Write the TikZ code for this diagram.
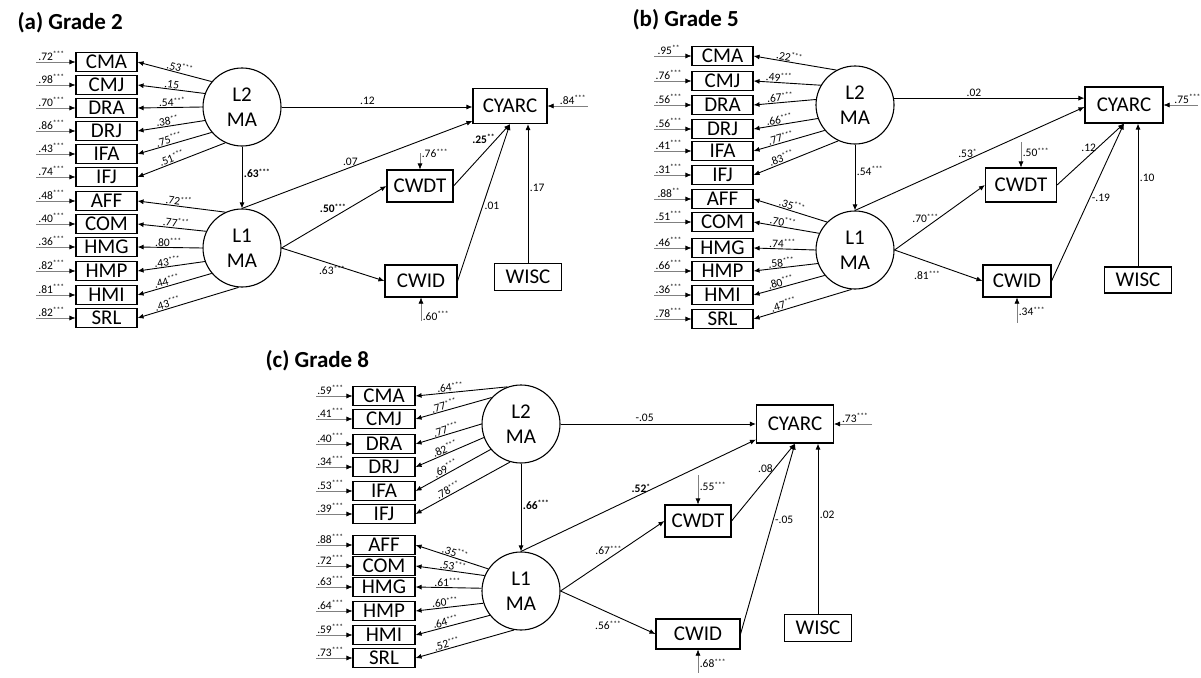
\documentclass[tikz,border=0pt]{standalone}
\usepackage{fontspec}
\setmainfont{Carlito}
\usetikzlibrary{arrows.meta}
\newcommand\sig[1]{\raisebox{3.2pt}{\fontsize{7.5}{8}\selectfont#1}}

\begin{document}
\begin{tikzpicture}[x=1pt, y=-1pt, font=\fontsize{11.5}{13}\selectfont,
		ind/.style={draw, line width=1.1pt, minimum width=61pt, minimum height=19pt, inner sep=0pt,
			text height=13.5pt, text depth=0pt, font=\fontsize{21}{22}\selectfont},
		var/.style={ind, minimum height=32pt},
		lat/.style={draw, circle, line width=1.1pt, minimum size=78pt, inner sep=0pt, align=center,
			font=\fontsize{21}{25}\selectfont},
		eff/.style={line width=0.9pt, -{Latex[length=6pt, width=5pt]}},
		err/.style={draw=gray, line width=0.6pt, -{Latex[length=6pt, width=5pt, color=black]}},
		lab/.style={inner sep=1.5pt},
		load/.style={inner sep=0.6pt, above, sloped},
		ttl/.style={anchor=base west, font=\fontsize{23}{26}\selectfont\bfseries}]
	\useasboundingbox (0,0) rectangle (1201,677);

	% (a) Grade 2
	\node[ttl] at (14,30) {(a) Grade 2};
	\node[lat] (L2a) at (242,107) {L2\\MA};
	\node[lat] (L1a) at (242,248) {L1\\MA};
	\node[var, minimum width=74pt, minimum height=35pt] (CYARCa) at (510,106) {CYARC};
	\node[var, minimum width=66pt] (CWDTa) at (420,186) {CWDT};
	\node[var, minimum width=72pt] (CWIDa) at (421,281) {CWID};
	\node[var, minimum width=67pt, minimum height=27pt] (WISCa) at (528,277) {WISC};
	\foreach \nm/\yy/\lv/\ang/\ps/\ld/\er in {
			CMA/62/L2a/140/0.45/{.53\sig{***}}/{.72\sig{***}},
			CMJ/85/L2a/160/0.5/{.15}/{.98\sig{***}},
			DRA/108/L2a/180/0.47/{.54\sig{***}}/{.70\sig{***}},
			DRJ/131/L2a/200/0.55/{.38\sig{**}}/{.86\sig{***}},
			IFA/154/L2a/220/0.56/{.75\sig{***}}/{.43\sig{***}},
			IFJ/177/L2a/245/0.59/{.51\sig{***}}/{.74\sig{***}},
			AFF/201/L1a/115/0.54/{.72\sig{***}}/{.48\sig{***}},
			COM/224/L1a/155/0.45/{.77\sig{***}}/{.40\sig{***}},
			HMG/247/L1a/180/0.53/{.80\sig{***}}/{.36\sig{***}},
			HMP/271/L1a/200/0.55/{.43\sig{***}}/{.82\sig{***}},
			HMI/295/L1a/220/0.59/{.44\sig{***}}/{.81\sig{***}},
			SRL/318/L1a/265/0.69/{.43\sig{***}}/{.82\sig{***}}} {
		\node[ind] (a-\nm) at (106.5,\yy) {\nm};
		\draw[err] ([xshift=-39pt]a-\nm.west) -- node[lab, pos=0.38, above] {\er} (a-\nm.west);
		\draw[eff] (\lv.\ang) -- node[load, pos=\ps] {\ld} (a-\nm.east);
	}
	\draw[eff] (L2a.south) -- node[lab, pos=0.43, right] {\bfseries .63\sig{***}} (L1a.north);
	\draw[eff] (L2a.east) -- node[lab, pos=0.45, above] {.12} (L2a.east -| CYARCa.west);
	\draw[eff] (L1a.north) -- node[lab, pos=0.47, above] {.07} ([yshift=3pt]CYARCa.south west);
	\draw[eff] (L1a.east) -- node[lab, pos=0.49, above=3pt] {\bfseries .50\sig{***}} (CWDTa.west);
	\draw[eff] (L1a.east) -- node[lab, pos=0.49, below] {.63\sig{***}} (CWIDa.west);
	\draw[eff] (CWDTa.east) -- node[lab, pos=0.76, left] {\bfseries .25\sig{**}} (CYARCa.south);
	\draw[eff] (CWIDa.east) -- node[lab, pos=0.48, right] {.01} (CYARCa.south);
	\draw[eff] (WISCa.north) -- node[lab, pos=0.54, right] {.17} (WISCa.north |- CYARCa.south);
	\draw[err] ([yshift=16pt]CWDTa.north) -- node[lab, pos=0, right] {.76\sig{***}} (CWDTa.north);
	\draw[err] ([yshift=-23pt]CWIDa.south) -- node[lab, pos=0.2, right] {.60\sig{***}} (CWIDa.south);
	\draw[err] ([xshift=40pt]CYARCa.east) -- node[lab, pos=0.37, above] {.84\sig{***}} (CYARCa.east);

	% (b) Grade 5
	\node[ttl] at (629,27) {(b) Grade 5};
	\node[lat] (L2b) at (855,105) {L2\\MA};
	\node[lat] (L1b) at (855,250) {L1\\MA};
	\node[var, minimum width=78pt, minimum height=36pt] (CYARCb) at (1124,105) {CYARC};
	\node[var, minimum width=71pt, minimum height=34pt] (CWDTb) at (1021,185) {CWDT};
	\node[var, minimum width=68pt] (CWIDb) at (1017,281) {CWID};
	\node[var, minimum width=67pt, minimum height=26pt] (WISCb) at (1138,280) {WISC};
	\foreach \nm/\yy/\lv/\ang/\ps/\ld/\er in {
			CMA/56/L2b/118/0.58/{.22\sig{***}}/{.95\sig{**}},
			CMJ/81/L2b/150/0.63/{.49\sig{***}}/{.76\sig{***}},
			DRA/105/L2b/172/0.57/{.67\sig{***}}/{.56\sig{***}},
			DRJ/129/L2b/200/0.59/{.66\sig{***}}/{.56\sig{***}},
			IFA/151/L2b/220/0.6/{.77\sig{***}}/{.41\sig{***}},
			IFJ/175/L2b/245/0.65/{.83\sig{***}}/{.31\sig{***}},
			AFF/199/L1b/135/0.5/{.35\sig{***}}/{.88\sig{**}},
			COM/222/L1b/155/0.57/{.70\sig{***}}/{.51\sig{***}},
			HMG/248/L1b/180/0.54/{.74\sig{***}}/{.46\sig{***}},
			HMP/271/L1b/200/0.56/{.58\sig{***}}/{.66\sig{***}},
			HMI/295/L1b/220/0.6/{.80\sig{***}}/{.36\sig{***}},
			SRL/319/L1b/265/0.68/{.47\sig{***}}/{.78\sig{***}}} {
		\node[ind] (b-\nm) at (722.5,\yy) {\nm};
		\draw[err] ([xshift=-37pt]b-\nm.west) -- node[lab, pos=0.38, above] {\er} (b-\nm.west);
		\draw[eff] (\lv.\ang) -- node[load, pos=\ps] {\ld} (b-\nm.east);
	}
	\draw[eff] (L2b.south) -- node[lab, pos=0.4, right] {.54\sig{***}} (L1b.north);
	\draw[eff] (L2b.10) -- node[lab, pos=0.42, above] {.02} (L2b.10 -| CYARCb.west);
	\draw[eff] (L1b.north) -- node[lab, pos=0.49, above] {.53\sig{*}} ([yshift=-2pt]CYARCb.west);
	\draw[eff] (L1b.east) -- node[lab, pos=0.34, above=3pt] {.70\sig{***}} (CWDTb.west);
	\draw[eff] (L1b.east) -- node[lab, pos=0.37, below=8pt] {.81\sig{***}} (CWIDb.west);
	\draw[eff] (CWDTb.east) -- node[lab, pos=0.61, left] {.12} (CYARCb.south);
	\draw[eff] (CWIDb.east) -- node[lab, pos=0.53, right] {-.19} (CYARCb.south);
	\draw[eff] (WISCb.north) -- node[lab, pos=0.62, right] {.10} (WISCb.north |- CYARCb.south);
	\draw[err] ([yshift=25pt]CWDTb.north) -- node[lab, pos=0.4, right] {.50\sig{***}} (CWDTb.north);
	\draw[err] ([yshift=-25pt]CWIDb.south) -- node[lab, pos=0.45, right] {.34\sig{***}} (CWIDb.south);
	\draw[err] ([xshift=34pt]CYARCb.east) -- node[lab, pos=0.3, above] {.75\sig{***}} (CYARCb.east);

	% (c) Grade 8
	\node[ttl] at (262,367) {(c) Grade 8};
	\node[lat] (L2c) at (521,424) {L2\\MA};
	\node[lat] (L1c) at (521,591) {L1\\MA};
	\node[var, minimum width=77pt, minimum height=38pt] (CYARCc) at (795,424) {CYARC};
	\node[var, minimum width=66pt] (CWDTc) at (698,521) {CWDT};
	\node[var, minimum width=84pt, minimum height=30pt] (CWIDc) at (698,634) {CWID};
	\node[var, minimum width=67pt, minimum height=27pt] (WISCc) at (818,628) {WISC};
	\foreach \nm/\yy/\lv/\ang/\ps/\ld/\er in {
			CMA/396/L2c/110/0.62/{.64\sig{***}}/{.59\sig{***}},
			CMJ/419/L2c/138/0.61/{.77\sig{***}}/{.41\sig{***}},
			DRA/444/L2c/180/0.52/{.77\sig{***}}/{.40\sig{***}},
			DRJ/467/L2c/200/0.54/{.82\sig{***}}/{.34\sig{***}},
			IFA/491/L2c/220/0.57/{.69\sig{***}}/{.53\sig{***}},
			IFJ/514/L2c/254/0.63/{.78\sig{***}}/{.39\sig{***}},
			AFF/545/L1c/146/0.48/{.35\sig{***}}/{.88\sig{***}},
			COM/566/L1c/157/0.47/{.53\sig{***}}/{.72\sig{***}},
			HMG/587/L1c/176/0.52/{.61\sig{***}}/{.63\sig{***}},
			HMP/611/L1c/198/0.56/{.60\sig{***}}/{.64\sig{***}},
			HMI/635/L1c/218/0.58/{.64\sig{***}}/{.59\sig{***}},
			SRL/658/L1c/260/0.67/{.52\sig{***}}/{.73\sig{***}}} {
		\node[ind, minimum width=62pt] (c-\nm) at (384,\yy) {\nm};
		\draw[err] ([xshift=-36pt]c-\nm.west) -- node[lab, pos=0.38, above] {\er} (c-\nm.west);
		\draw[eff] (\lv.\ang) -- node[load, pos=\ps] {\ld} (c-\nm.east);
	}
	\draw[eff] (L2c.south) -- node[lab, pos=0.47, right] {\bfseries .66\sig{***}} (L1c.north);
	\draw[eff] (L2c.east) -- node[lab, pos=0.43, above] {-.05} (L2c.east -| CYARCc.west);
	\draw[eff] (L1c.north) -- node[lab, pos=0.51, above] {\bfseries .52\sig{*}} ([yshift=4pt]CYARCc.south west);
	\draw[eff] (L1c.east) -- node[lab, pos=0.46, above=2pt] {.67\sig{***}} (CWDTc.west);
	\draw[eff] (L1c.east) -- node[lab, pos=0.5, below=7pt] {.56\sig{***}} (CWIDc.west);
	\draw[eff] (CWDTc.east) -- node[lab, pos=0.68, left] {.08} (CYARCc.south);
	\draw[eff] (CWIDc.east) -- node[lab, pos=0.6, right] {-.05} (CYARCc.south);
	\draw[eff] (WISCc.north) -- node[lab, pos=0.58, right] {.02} (WISCc.north |- CYARCc.south);
	\draw[err] ([yshift=29pt]CWDTc.north) -- node[lab, pos=0.38, right] {.55\sig{***}} (CWDTc.north);
	\draw[err] ([yshift=-23pt]CWIDc.south) -- node[lab, pos=0.4, right] {.68\sig{***}} (CWIDc.south);
	\draw[err] ([xshift=38pt]CYARCc.east) -- node[lab, pos=0.45, above] {.73\sig{***}} (CYARCc.east);
\end{tikzpicture}
\end{document}
